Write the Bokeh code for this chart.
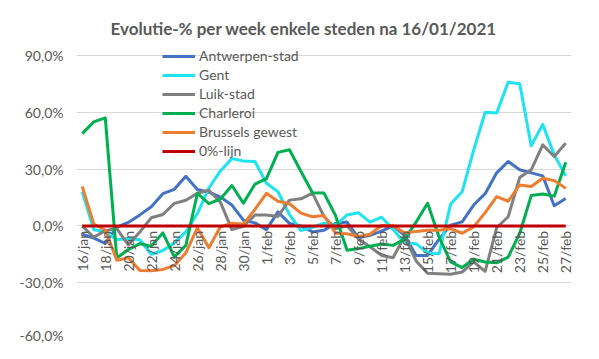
from math import pi
from bokeh.plotting import figure
from bokeh.models import Range1d, FixedTicker, ColumnDataSource
from bokeh.core.properties import value
from bokeh.embed import file_html
from bokeh.resources import INLINE

dates = ["16/jan", "17/jan", "18/jan", "19/jan", "20/jan", "21/jan", "22/jan", "23/jan",
         "24/jan", "25/jan", "26/jan", "27/jan", "28/jan", "29/jan", "30/jan", "31/jan",
         "1/feb", "2/feb", "3/feb", "4/feb", "5/feb", "6/feb", "7/feb", "8/feb", "9/feb",
         "10/feb", "11/feb", "12/feb", "13/feb", "14/feb", "15/feb", "16/feb", "17/feb",
         "18/feb", "19/feb", "20/feb", "21/feb", "22/feb", "23/feb", "24/feb", "25/feb",
         "26/feb", "27/feb"]

antwerpen = [-4.4, -6.5, -9.3, -0.7, 1.8, 5.8, 10.1, 17.0, 19.3, 26.2, 19.2, 17.8, 15.2, 11.0,
             3.0, 1.6, -2.0, 7.4, 1.3, 0.0, -3.2, -2.3, 1.2, 2.0, -6.3, -5.0, -2.8, 0.0, -5.0,
             -15.6, -15.6, -7.0, 0.4, 2.1, 11.0, 17.0, 28.0, 34.0, 29.6, 28.0, 26.4, 10.6, 14.5]
gent = [18.0, -2.0, -3.0, -7.3, -6.7, -7.3, -15.0, -13.0, -9.0, -3.2, 6.5, 20.0, 29.0, 35.5,
        34.3, 34.0, 22.5, 18.0, 6.0, -2.5, -0.8, 1.4, 0.4, 5.7, 6.9, 2.0, 4.6, -1.8, -9.0,
        -9.4, -14.3, -14.7, 11.5, 18.0, 40.0, 60.0, 59.6, 75.9, 75.0, 42.3, 53.6, 37.5, 26.4]
luik = [0.0, -6.0, -2.5, -1.4, -10.0, -3.2, 4.3, 6.0, 11.9, 13.5, 17.2, 18.8, 12.5, -2.0,
        -0.2, 5.7, 5.7, 5.0, 13.6, 14.3, 17.3, 5.0, -1.5, 0.0, -7.0, -11.0, -15.6, -16.8, -5.5,
        -18.5, -25.0, -25.3, -25.5, -24.4, -19.0, -24.0, -1.0, 4.8, 25.5, 29.6, 42.8, 36.6, 43.7]
charleroi = [48.7, 54.9, 57.0, -17.0, -12.5, -9.4, -10.7, -3.7, -16.3, -10.3, 17.2, 11.8, 14.2,
             21.3, 12.0, 22.0, 25.0, 38.8, 40.2, 28.7, 17.5, 17.3, 5.5, -12.9, -12.0, -10.8,
             -9.6, -10.3, -7.0, 2.0, 11.9, -6.0, -19.0, -22.0, -17.6, -19.1, -19.5, -16.5,
             -4.0, 16.0, 16.8, 15.7, 33.6]
brussels = [20.8, 1.0, -2.2, -18.2, -16.8, -23.5, -23.7, -23.0, -21.0, -14.2, -1.0, -11.5, -0.5,
            1.4, 0.9, 8.7, 17.2, 13.0, 11.7, 6.7, 4.8, 5.5, -3.9, -4.2, -5.6, -4.4, 0.2, 0.1,
            -3.7, -3.0, -2.3, -2.3, -1.4, -3.9, -0.5, 7.0, 15.4, 13.0, 21.6, 20.8, 25.1, 23.9, 19.8]
nul_lijn = [0.0, 0.0, 0.0, 0.0, 0.0, 0.0, 0.0, 0.0, 0.0, 0.0, 0.0, 0.0, 0.0, 0.0, 0.0, 0.0,
            0.0, 0.0, 0.0, 0.0, 0.0, 0.0, 0.0, 0.0, 0.0, 0.0, 0.0, 0.0, 0.0, 0.0, 0.0, 0.0,
            0.0, 0.0, 0.0, 0.0, 0.0, 0.0, 0.0, 0.0, 0.0, 0.0, 0.0]

y_ticks = [-60, -30, 0, 30, 60, 90]
y_tick_labels = ["-60,0%", "-30,0%", "0,0%", "30,0%", "60,0%", "90,0%"]

series = [
    ("Antwerpen-stad", antwerpen, "#4472c4"),
    ("Gent", gent, "#1ee3f0"),
    ("Luik-stad", luik, "#808080"),
    ("Charleroi", charleroi, "#00b050"),
    ("Brussels gewest", brussels, "#ed7d31"),
    ("0%-lijn", nul_lijn, "#c00000"),
]

idx = list(range(len(dates)))
FONT = "Lato"
GREY = "#595959"

p = figure(width=583, height=343, output_backend="svg", toolbar_location=None,
           x_range=Range1d(-0.5, len(dates) - 0.5), y_range=Range1d(-60, 100),
           min_border_left=76, min_border_right=12, min_border_top=36, min_border_bottom=4,
           title="Evolutie-% per week enkele steden na 16/01/2021")

p.title.align = "left"
p.title.offset = 34
p.title.text_font = FONT
p.title.text_font_style = "bold"
p.title.text_font_size = "17px"
p.title.text_color = GREY
try:
    p.title.standoff = -4
except Exception:
    pass

p.outline_line_color = None
p.background_fill_color = "white"
p.border_fill_color = "white"

for name, vals, col in series:
    p.line(idx, vals, line_width=3, color=col, legend_label=name, line_join="round")

# x axis labels sit on the 0 line (Excel horizontal axis crosses at 0)
tick_idx = idx[::2]
tick_lab = dates[::2]
src = ColumnDataSource(dict(x=tick_idx, y=[0] * len(tick_idx), t=tick_lab))
p.text(x="x", y="y", text="t", source=src, angle=pi / 2, text_align="right",
       text_baseline="middle", y_offset=5, text_font=value(FONT),
       text_font_size="14px", text_color=GREY)

p.xaxis.visible = False
p.xgrid.visible = False

p.yaxis.ticker = FixedTicker(ticks=y_ticks)
p.yaxis.major_label_overrides = {t: l for t, l in zip(y_ticks, y_tick_labels)}
p.yaxis.axis_line_color = None
p.yaxis.major_tick_line_color = None
p.yaxis.minor_tick_line_color = None
p.yaxis.major_tick_out = 0
p.yaxis.major_tick_in = 0
p.yaxis.major_label_standoff = 13
p.yaxis.major_label_text_font = FONT
p.yaxis.major_label_text_font_size = "14px"
p.yaxis.major_label_text_color = GREY

p.ygrid.ticker = FixedTicker(ticks=y_ticks)
p.ygrid.grid_line_color = "#d9d9d9"
p.ygrid.grid_line_width = 1

lg = p.legend[0]
lg.location = (86, 180)
lg.padding = 0
lg.margin = 0
lg.spacing = 2
lg.glyph_height = 16
lg.glyph_width = 33
lg.label_height = 16
lg.label_standoff = 4
lg.label_text_font = FONT
lg.label_text_font_size = "14px"
lg.label_text_color = GREY
lg.background_fill_alpha = 0
lg.border_line_alpha = 0

open("out.html", "w").write(file_html(p, INLINE))
